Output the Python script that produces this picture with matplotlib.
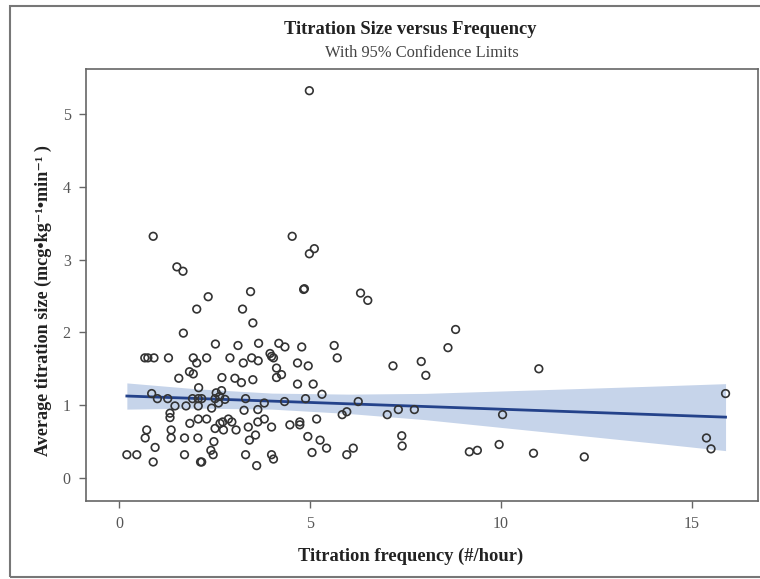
import matplotlib
matplotlib.use("Agg")
from matplotlib import pyplot as plt
from matplotlib.patches import Rectangle

plt.rcParams['font.family'] = ['Liberation Serif', 'DejaVu Serif']

# titration frequency (#/hour) and average titration size
freq = [0.89, 4.53, 5.11, 4.98, 1.51, 1.67, 4.83, 4.85, 3.44, 2.33,
        2.03, 3.23, 3.50, 1.68, 2.52, 3.11, 3.65, 4.18, 4.34, 4.78,
        5.63, 5.71, 0.67, 0.75, 0.91, 1.29, 1.94, 2.03, 2.29, 2.90,
        3.25, 3.47, 3.64, 3.95, 3.99, 4.04, 4.67, 4.95, 4.12, 4.25,
        4.12, 1.84, 1.94, 1.56, 2.69, 3.03, 3.20, 3.50, 4.67, 5.08,
        2.08, 2.68, 2.54, 2.63, 0.85, 1.00, 1.27, 1.92, 2.07, 2.16,
        2.51, 2.77, 3.31, 3.80, 4.33, 4.88, 5.31, 1.46, 1.75, 2.07,
        2.42, 2.60, 3.27, 3.63, 1.33, 1.33, 1.85, 2.07, 2.29, 2.64,
        2.71, 2.86, 2.95, 2.51, 2.73, 3.06, 3.38, 3.63, 3.80, 3.99,
        4.47, 4.73, 4.73, 5.17, 5.84, 5.96, 0.72, 0.68, 1.36, 1.36,
        1.71, 2.06, 0.94, 2.48, 2.40, 2.46, 3.41, 3.57, 4.94, 5.26,
        5.43, 5.05, 0.20, 0.46, 0.89, 1.71, 2.13, 2.16, 3.31, 3.60,
        3.99, 4.04, 5.96, 6.32, 6.51, 8.81, 8.61, 7.17, 7.91, 8.03,
        10.99, 6.26, 7.02, 7.31, 7.73, 10.04, 7.40, 7.41, 6.13, 9.17,
        9.38, 9.95, 10.85, 15.88, 15.38, 15.50, 12.18, 4.98]
size = [3.32, 3.32, 3.15, 3.08, 2.90, 2.84, 2.59, 2.60, 2.56, 2.49,
        2.32, 2.32, 2.13, 1.99, 1.84, 1.82, 1.85, 1.85, 1.80, 1.80,
        1.82, 1.65, 1.65, 1.65, 1.65, 1.65, 1.65, 1.58, 1.65, 1.65,
        1.58, 1.65, 1.61, 1.71, 1.67, 1.65, 1.58, 1.54, 1.51, 1.42,
        1.38, 1.46, 1.43, 1.37, 1.38, 1.37, 1.31, 1.35, 1.29, 1.29,
        1.24, 1.20, 1.17, 1.12, 1.16, 1.09, 1.09, 1.09, 1.09, 1.09,
        1.09, 1.08, 1.09, 1.03, 1.05, 1.09, 1.15, 0.99, 0.99, 0.99,
        0.96, 1.03, 0.93, 0.94, 0.89, 0.83, 0.75, 0.81, 0.81, 0.75,
        0.77, 0.81, 0.77, 0.68, 0.66, 0.66, 0.70, 0.77, 0.81, 0.70,
        0.73, 0.77, 0.73, 0.81, 0.87, 0.91, 0.66, 0.55, 0.66, 0.55,
        0.55, 0.55, 0.42, 0.50, 0.38, 0.32, 0.52, 0.59, 0.57, 0.52,
        0.41, 0.35, 0.32, 0.32, 0.22, 0.32, 0.22, 0.22, 0.32, 0.17,
        0.32, 0.26, 0.32, 2.54, 2.44, 2.04, 1.79, 1.54, 1.60, 1.41,
        1.50, 1.05, 0.87, 0.94, 0.94, 0.87, 0.58, 0.44, 0.41, 0.36,
        0.38, 0.46, 0.34, 1.16, 0.55, 0.40, 0.29, 5.32]

# regression line and 95% confidence limits
band_x = [0.2, 2, 4, 6, 8, 10, 12, 14, 15.88]
fit_y = [1.126, 1.093, 1.056, 1.019, 0.982, 0.945, 0.908, 0.871, 0.836]
ci_upper = [1.306, 1.226, 1.166, 1.152, 1.162, 1.195, 1.228, 1.262, 1.296]
ci_lower = [0.946, 0.960, 0.946, 0.886, 0.802, 0.695, 0.588, 0.480, 0.376]

x_ticks = [0, 5, 10, 15]
y_ticks = [0, 1, 2, 3, 4, 5]

W, H = 760, 579
fig = plt.figure(figsize=(W / 100, H / 100), dpi=100)
ax = fig.add_axes([86 / W, 1 - 501 / H, (758 - 86) / W, (501 - 69) / H])

ax.fill_between(band_x, ci_lower, ci_upper, color='#c6d4ea', lw=0, zorder=1)
ax.plot(band_x, fit_y, color='#24428a', lw=2, zorder=2)
ax.scatter(freq, size, s=30, facecolors='none', edgecolors='#333333', linewidths=1.2, zorder=3)

ax.set_xlim(-0.87, 16.73)
ax.set_ylim(-0.316, 5.618)
ax.set_xticks(x_ticks)
ax.set_yticks(y_ticks)
ax.tick_params(direction='out', length=5, width=1, color='#666666',
               labelcolor='#555555', labelsize=11.5, pad=6)
for sp in ax.spines.values():
    sp.set_color('#666666')
    sp.set_linewidth(1.2)

fig.text(410 / W, 1 - 30 / H, 'Titration Size versus Frequency', ha='center', va='center',
         fontsize=13.3, fontweight='bold', color='#222222')
fig.text(422 / W, 1 - 53 / H, 'With 95% Confidence Limits', ha='center', va='center',
         fontsize=11.9, color='#444444')
fig.text(411 / W, 1 - 556 / H, 'Titration frequency (#/hour)', ha='center', va='center',
         fontsize=13.3, fontweight='bold', color='#222222')
fig.text(43 / W, 1 - 301 / H, 'Average titration size (mcg•kg⁻¹•min⁻¹ )', ha='center', va='center',
         rotation=90, fontsize=13.1, fontweight='bold', color='#222222')

# outer frame around the whole graphic (right edge is cut off)
fig.add_artist(Rectangle((10 / W, 2 / H), 1.0, 1 - 8 / H, transform=fig.transFigure,
                         fill=False, ec='#777777', lw=1.5))

fig.savefig('out.png', dpi=100)
